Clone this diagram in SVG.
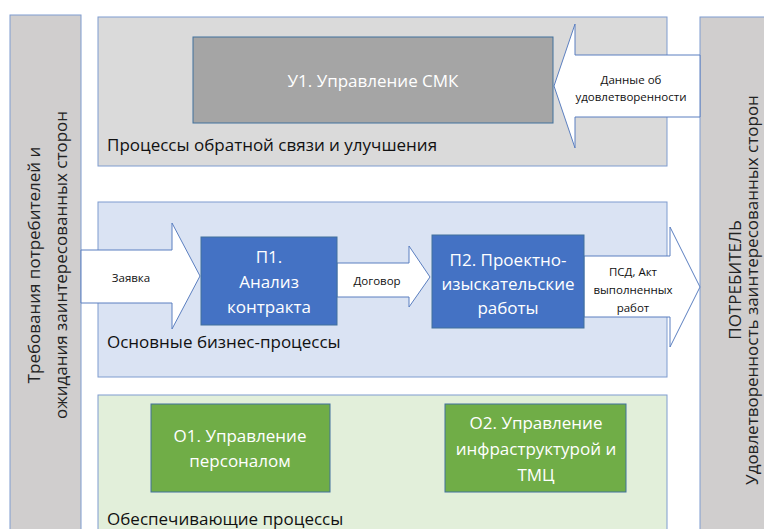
<svg xmlns="http://www.w3.org/2000/svg" width="764" height="529" viewBox="0 0 764 529">
<style>
.bar{fill:#d0cece;stroke:#7f9ccf;stroke-width:1}
.cont{stroke:#7f9ccf;stroke-width:1}
.box{stroke:#41719c;stroke-width:1}
.arr{fill:#ffffff;stroke:#5b7fc0;stroke-width:1}
text{font-family:"Open Sans","Liberation Sans",sans-serif}
.lbl{font-size:17px;fill:#111}
.bt{font-size:17px;fill:#ffffff;text-anchor:middle}
.at{font-size:11.5px;fill:#111;text-anchor:middle}
.vt{font-size:17px;fill:#222;text-anchor:middle}
</style>
<rect width="764" height="529" fill="#ffffff"/>
<g id="feedback">
<rect class="cont" x="98" y="17" width="569" height="149" fill="#dadada"/>
<text class="lbl" x="107" y="151">Процессы обратной связи и улучшения</text>
</g>
<g id="main">
<rect class="cont" x="98" y="202" width="569" height="175" fill="#dae3f3"/>
<text class="lbl" x="107" y="348">Основные бизнес-процессы</text>
</g>
<g id="support">
<rect class="cont" x="98" y="395" width="569" height="140" fill="#e2efda"/>
<text class="lbl" x="107" y="525">Обеспечивающие процессы</text>
</g>
<g id="left-bar">
<rect class="bar" x="10" y="15" width="71" height="520"/>
<text class="vt" transform="translate(40,265) rotate(-90)">Требования потребителей и</text>
<text class="vt" transform="translate(67,265) rotate(-90)">ожидания заинтересованных сторон</text>
</g>
<g id="right-bar">
<rect class="bar" x="700" y="17" width="70" height="520"/>
<text class="vt" transform="translate(741,280) rotate(-90)">ПОТРЕБИТЕЛЬ</text>
<text class="vt" font-size="16" transform="translate(758,290) rotate(-90)">Удовлетворенность заинтересованных сторон</text>
</g>
<g id="connectors">
<polygon class="arr" points="700,55 575,55 575,24 554,86 575,148 575,117 700,117"/>
<text class="at" x="631" y="84">Данные об</text>
<text class="at" x="631" y="101">удовлетворенности</text>
<polygon class="arr" points="81,250 172,250 172,223 200,276 172,329 172,303 81,303"/>
<text class="at" x="131" y="282">Заявка</text>
<polygon class="arr" points="337,263 409,263 409,246 430,277 409,307 409,297 337,297"/>
<text class="at" x="377" y="285">Договор</text>
<polygon class="arr" points="584,256 670,256 670,227 700,287 670,347 670,317 584,317"/>
<text class="at" x="633" y="276">ПСД, Акт</text>
<text class="at" x="633" y="294">выполненных</text>
<text class="at" x="633" y="312">работ</text>
</g>
<g id="u1">
<rect class="box" x="193" y="37" width="360" height="86" fill="#a5a5a5" stroke="#5b7fc0"/>
<text class="bt" x="373" y="87" fill="#f2f2f2" font-size="18.5">У1. Управление СМК</text>
</g>
<g id="p1">
<rect class="box" x="201" y="237" width="136" height="88" fill="#4472c4" stroke="#2f528f"/>
<text class="bt" x="269" y="263">П1.</text>
<text class="bt" x="269" y="288">Анализ</text>
<text class="bt" x="269" y="313">контракта</text>
</g>
<g id="p2">
<rect class="box" x="432" y="235" width="152" height="93" fill="#4472c4" stroke="#2f528f"/>
<text class="bt" x="508" y="266">П2. Проектно-</text>
<text class="bt" x="508" y="290">изыскательские</text>
<text class="bt" x="508" y="314">работы</text>
</g>
<g id="o1">
<rect class="box" x="151" y="404" width="179" height="88" fill="#70ad47" stroke="#507e32"/>
<text class="bt" x="240" y="442">О1. Управление</text>
<text class="bt" x="240" y="467">персоналом</text>
</g>
<g id="o2">
<rect class="box" x="445" y="404" width="181" height="88" fill="#70ad47" stroke="#507e32"/>
<text class="bt" x="536" y="429">О2. Управление</text>
<text class="bt" x="536" y="455">инфраструктурой и</text>
<text class="bt" x="536" y="481">ТМЦ</text>
</g>
</svg>
